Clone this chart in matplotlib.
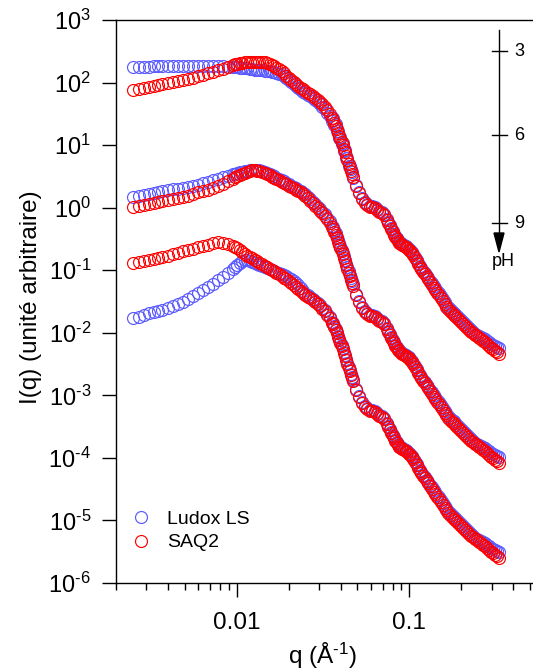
import numpy as np
import matplotlib
matplotlib.use("Agg")
import matplotlib.pyplot as plt
from matplotlib.lines import Line2D
from matplotlib.patches import Polygon
from matplotlib.ticker import LogLocator, NullFormatter, FuncFormatter

plt.rcParams['font.family'] = ['Liberation Sans', 'DejaVu Sans']
plt.rcParams['mathtext.fontset'] = 'custom'
plt.rcParams['mathtext.rm'] = 'Liberation Sans'
plt.rcParams['mathtext.it'] = 'Liberation Sans:italic'
plt.rcParams['mathtext.default'] = 'regular'
plt.rcParams['axes.unicode_minus'] = False

# ---------------- data ----------------
q = [0.0025, 0.0027, 0.0029, 0.0031, 0.0033, 0.0035, 0.0037, 0.0040, 0.0043, 0.0046,
     0.0049, 0.0052, 0.0056, 0.0060, 0.0064, 0.0068, 0.0073, 0.0078, 0.0083, 0.0089,
     0.0095, 0.0101, 0.0108, 0.0115, 0.0123, 0.0131, 0.0140, 0.0150, 0.0160, 0.0170,
     0.0182, 0.0194, 0.0207, 0.0220, 0.0235, 0.0250, 0.0267, 0.0285, 0.0304, 0.0324,
     0.0345, 0.0368, 0.0392, 0.0418, 0.0445, 0.0470, 0.0490, 0.0510, 0.0530, 0.0550,
     0.0570, 0.0590, 0.0610, 0.0630, 0.0650, 0.0670, 0.0690, 0.0710, 0.0740, 0.0770,
     0.0800, 0.0830, 0.0860, 0.0890, 0.0930, 0.0970, 0.101, 0.105, 0.110, 0.115,
     0.120, 0.126, 0.132, 0.138, 0.145, 0.152, 0.160, 0.168, 0.176, 0.185,
     0.195, 0.205, 0.216, 0.228, 0.240, 0.253, 0.267, 0.282, 0.298, 0.315, 0.330]

# log10 of I(q)
saq2_ph3 = [1.881, 1.897, 1.913, 1.929, 1.937, 1.953, 1.969, 1.985, 2.001, 2.017,
            2.033, 2.049, 2.073, 2.097, 2.121, 2.145, 2.169, 2.193, 2.217, 2.249,
            2.281, 2.297, 2.313, 2.329, 2.329, 2.329, 2.329, 2.313, 2.281, 2.233,
            2.185, 2.105, 2.041, 1.977, 1.913, 1.865, 1.817, 1.753, 1.689, 1.609,
            1.497, 1.354, 1.146, 0.938, 0.698, 0.490, 0.347, 0.235, 0.139, 0.075,
            0.043, 0.011, 0.003, -0.005, -0.037, -0.069, -0.085, -0.117, -0.197, -0.293,
            -0.389, -0.469, -0.533, -0.581, -0.613, -0.645, -0.693, -0.757, -0.852, -0.948,
            -1.028, -1.108, -1.188, -1.284, -1.364, -1.444, -1.540, -1.620, -1.684, -1.732,
            -1.796, -1.859, -1.923, -1.987, -2.035, -2.083, -2.131, -2.179, -2.243, -2.291, -2.339]

ludox_ph3 = [2.249, 2.249, 2.249, 2.249, 2.257, 2.257, 2.257, 2.265, 2.265, 2.265,
             2.265, 2.265, 2.265, 2.265, 2.265, 2.265, 2.265, 2.257, 2.257, 2.249,
             2.249, 2.241, 2.233, 2.225, 2.209, 2.201, 2.193, 2.185, 2.169, 2.153,
             2.129, 2.073, 2.009, 1.945, 1.881, 1.833, 1.785, 1.721, 1.657, 1.577,
             1.465, 1.321, 1.114, 0.906, 0.666, 0.474, 0.363, 0.251, 0.155, 0.091,
             0.059, 0.027, 0.019, 0.011, -0.021, -0.053, -0.069, -0.101, -0.181, -0.277,
             -0.373, -0.453, -0.517, -0.565, -0.597, -0.629, -0.677, -0.741, -0.836, -0.932,
             -1.012, -1.092, -1.172, -1.252, -1.332, -1.412, -1.508, -1.588, -1.652, -1.700,
             -1.764, -1.827, -1.891, -1.955, -2.019, -2.051, -2.083, -2.131, -2.179, -2.211, -2.243]

saq2_ph6 = [0.011, 0.027, 0.043, 0.059, 0.067, 0.083, 0.099, 0.115, 0.131, 0.147,
            0.171, 0.187, 0.219, 0.243, 0.267, 0.283, 0.315, 0.346, 0.378, 0.426,
            0.466, 0.506, 0.538, 0.578, 0.602, 0.594, 0.570, 0.538, 0.498, 0.458,
            0.418, 0.378, 0.330, 0.283, 0.243, 0.187, 0.107, 0.027, -0.053, -0.133,
            -0.245, -0.388, -0.596, -0.804, -1.044, -1.252, -1.395, -1.507, -1.603, -1.667,
            -1.699, -1.731, -1.739, -1.747, -1.779, -1.811, -1.827, -1.859, -1.939, -2.035,
            -2.131, -2.211, -2.275, -2.323, -2.355, -2.387, -2.435, -2.499, -2.594, -2.690,
            -2.770, -2.850, -2.930, -3.026, -3.106, -3.186, -3.282, -3.362, -3.426, -3.474,
            -3.538, -3.601, -3.665, -3.729, -3.777, -3.825, -3.873, -3.921, -3.985, -4.033, -4.081]

ludox_ph6 = [0.171, 0.179, 0.203, 0.219, 0.227, 0.243, 0.259, 0.275, 0.291, 0.306,
             0.322, 0.338, 0.354, 0.370, 0.394, 0.418, 0.442, 0.466, 0.490, 0.514,
             0.538, 0.554, 0.578, 0.594, 0.602, 0.602, 0.586, 0.562, 0.522, 0.482,
             0.442, 0.402, 0.354, 0.307, 0.267, 0.211, 0.131, 0.051, -0.029, -0.109,
             -0.221, -0.364, -0.572, -0.780, -1.020, -1.228, -1.379, -1.491, -1.587, -1.651,
             -1.683, -1.715, -1.723, -1.731, -1.763, -1.795, -1.811, -1.843, -1.923, -2.019,
             -2.115, -2.195, -2.259, -2.307, -2.339, -2.371, -2.419, -2.483, -2.578, -2.674,
             -2.754, -2.834, -2.914, -2.994, -3.074, -3.154, -3.250, -3.330, -3.394, -3.442,
             -3.506, -3.569, -3.633, -3.697, -3.761, -3.793, -3.825, -3.873, -3.921, -3.953, -3.985]

saq2_ph9 = [-0.884, -0.876, -0.860, -0.844, -0.828, -0.812, -0.796, -0.772, -0.748, -0.724,
            -0.700, -0.677, -0.653, -0.629, -0.613, -0.589, -0.565, -0.549, -0.557, -0.581,
            -0.605, -0.645, -0.709, -0.765, -0.812, -0.860, -0.908, -0.956, -0.996, -1.044,
            -1.092, -1.148, -1.204, -1.268, -1.332, -1.404, -1.444, -1.508, -1.572, -1.652,
            -1.764, -1.907, -2.115, -2.323, -2.563, -2.771, -2.914, -3.026, -3.122, -3.186,
            -3.218, -3.250, -3.258, -3.266, -3.298, -3.330, -3.346, -3.378, -3.458, -3.554,
            -3.650, -3.730, -3.794, -3.842, -3.874, -3.906, -3.954, -4.018, -4.113, -4.209,
            -4.289, -4.369, -4.449, -4.545, -4.625, -4.705, -4.801, -4.881, -4.945, -4.993,
            -5.057, -5.120, -5.184, -5.248, -5.296, -5.344, -5.392, -5.440, -5.504, -5.552, -5.600]

ludox_ph9 = [-1.764, -1.740, -1.708, -1.684, -1.668, -1.644, -1.628, -1.596, -1.572, -1.532,
             -1.500, -1.460, -1.412, -1.364, -1.316, -1.276, -1.220, -1.164, -1.108, -1.044,
             -0.980, -0.916, -0.852, -0.844, -0.876, -0.908, -0.932, -0.964, -1.004, -1.036,
             -1.068, -1.100, -1.148, -1.204, -1.284, -1.380, -1.428, -1.492, -1.556, -1.636,
             -1.748, -1.891, -2.099, -2.307, -2.547, -2.755, -2.898, -3.010, -3.106, -3.170,
             -3.202, -3.234, -3.242, -3.250, -3.282, -3.314, -3.330, -3.362, -3.442, -3.538,
             -3.634, -3.714, -3.778, -3.826, -3.858, -3.890, -3.938, -4.002, -4.097, -4.193,
             -4.273, -4.353, -4.433, -4.513, -4.593, -4.673, -4.769, -4.849, -4.913, -4.961,
             -5.025, -5.088, -5.152, -5.216, -5.280, -5.312, -5.344, -5.392, -5.440, -5.472, -5.504]

# additional readings where the measured points are packed densely
q_dense = [0.0098, 0.01045, 0.01115, 0.0119, 0.0127, 0.01355, 0.0145, 0.0155, 0.0165, 0.0176,
           0.0188, 0.02005, 0.02135, 0.02275, 0.02425, 0.02585, 0.0276, 0.02945, 0.0314, 0.03345,
           0.03565, 0.0380, 0.0405, 0.04315,
           0.0360, 0.0374, 0.0386, 0.0398, 0.0411, 0.0424, 0.0438, 0.0452, 0.0458, 0.0464,
           0.0755, 0.0785, 0.0815, 0.0845, 0.0875, 0.0910, 0.0950, 0.0990, 0.103, 0.1075,
           0.1125, 0.1175, 0.123, 0.129, 0.135, 0.1415, 0.1485, 0.156, 0.164, 0.172,
           0.1805, 0.190, 0.200, 0.2105, 0.222, 0.234, 0.2465, 0.260, 0.2745, 0.290,
           0.3065, 0.3225]

saq2_ph3_dense = [2.289, 2.305, 2.321, 2.331, 2.332, 2.331, 2.322, 2.298, 2.258, 2.209,
                  2.147, 2.073, 2.009, 1.945, 1.889, 1.841, 1.786, 1.722, 1.651, 1.556,
                  1.430, 1.253, 1.043, 0.820,
                  1.401, 1.306, 1.194, 1.098, 0.994, 0.882, 0.762, 0.642, 0.591, 0.541,
                  -0.245, -0.341, -0.429, -0.501, -0.557, -0.597, -0.629, -0.669, -0.725, -0.805,
                  -0.900, -0.988, -1.068, -1.148, -1.236, -1.324, -1.404, -1.492, -1.580, -1.652,
                  -1.708, -1.764, -1.828, -1.891, -1.955, -2.011, -2.059, -2.107, -2.155, -2.211,
                  -2.267, -2.315]

ludox_ph3_dense = [2.245, 2.237, 2.229, 2.217, 2.205, 2.197, 2.189, 2.177, 2.161, 2.141,
                   2.101, 2.041, 1.977, 1.913, 1.857, 1.809, 1.753, 1.689, 1.617, 1.521,
                   1.393, 1.218, 1.010, 0.786,
                   1.433, 1.338, 1.226, 1.130, 1.026, 0.914, 0.794, 0.674, 0.623, 0.573,
                   -0.229, -0.325, -0.413, -0.485, -0.541, -0.581, -0.613, -0.653, -0.709, -0.789,
                   -0.884, -0.972, -1.052, -1.132, -1.212, -1.292, -1.372, -1.460, -1.548, -1.620,
                   -1.676, -1.732, -1.796, -1.859, -1.923, -1.987, -2.035, -2.067, -2.107, -2.155,
                   -2.195, -2.227]

saq2_ph6_dense = [0.486, 0.522, 0.558, 0.592, 0.600, 0.583, 0.554, 0.518, 0.478, 0.438,
                  0.398, 0.354, 0.307, 0.263, 0.215, 0.147, 0.067, -0.013, -0.093, -0.189,
                  -0.317, -0.492, -0.700, -0.924,
                  -0.341, -0.436, -0.548, -0.644, -0.748, -0.860, -0.980, -1.100, -1.151, -1.201,
                  -1.987, -2.083, -2.171, -2.243, -2.299, -2.339, -2.371, -2.411, -2.467, -2.547,
                  -2.642, -2.730, -2.810, -2.890, -2.978, -3.066, -3.146, -3.234, -3.322, -3.394,
                  -3.450, -3.506, -3.570, -3.633, -3.697, -3.753, -3.801, -3.849, -3.897, -3.953,
                  -4.009, -4.057]

ludox_ph6_dense = [0.546, 0.566, 0.586, 0.600, 0.604, 0.595, 0.574, 0.542, 0.502, 0.462,
                   0.422, 0.378, 0.331, 0.287, 0.239, 0.171, 0.091, 0.011, -0.069, -0.165,
                   -0.293, -0.468, -0.676, -0.900,
                   -0.317, -0.412, -0.524, -0.620, -0.724, -0.836, -0.956, -1.076, -1.127, -1.177,
                   -1.971, -2.067, -2.155, -2.227, -2.283, -2.323, -2.355, -2.395, -2.451, -2.531,
                   -2.626, -2.714, -2.794, -2.874, -2.954, -3.034, -3.114, -3.202, -3.290, -3.362,
                   -3.418, -3.474, -3.538, -3.601, -3.665, -3.729, -3.777, -3.809, -3.849, -3.897,
                   -3.937, -3.969]

saq2_ph9_dense = [-0.625, -0.677, -0.737, -0.789, -0.836, -0.884, -0.932, -0.976, -1.020, -1.068,
                  -1.120, -1.176, -1.236, -1.300, -1.368, -1.424, -1.476, -1.540, -1.612, -1.708,
                  -1.836, -2.011, -2.219, -2.443,
                  -1.860, -1.955, -2.067, -2.163, -2.267, -2.379, -2.499, -2.619, -2.670, -2.720,
                  -3.506, -3.602, -3.690, -3.762, -3.818, -3.858, -3.890, -3.930, -3.986, -4.066,
                  -4.161, -4.249, -4.329, -4.409, -4.497, -4.585, -4.665, -4.753, -4.841, -4.913,
                  -4.969, -5.025, -5.089, -5.152, -5.216, -5.272, -5.320, -5.368, -5.416, -5.472,
                  -5.528, -5.576]

ludox_ph9_dense = [-0.948, -0.884, -0.840, -0.858, -0.892, -0.920, -0.948, -0.984, -1.020, -1.052,
                   -1.084, -1.124, -1.176, -1.244, -1.332, -1.404, -1.460, -1.524, -1.596, -1.692,
                   -1.820, -1.995, -2.203, -2.427,
                   -1.844, -1.939, -2.051, -2.147, -2.251, -2.363, -2.483, -2.603, -2.654, -2.704,
                   -3.490, -3.586, -3.674, -3.746, -3.802, -3.842, -3.874, -3.914, -3.970, -4.050,
                   -4.145, -4.233, -4.313, -4.393, -4.473, -4.553, -4.633, -4.721, -4.809, -4.881,
                   -4.937, -4.993, -5.057, -5.120, -5.184, -5.248, -5.296, -5.328, -5.368, -5.416,
                   -5.456, -5.488]

series_labels = ["Ludox LS", "SAQ2"]
ph_ticks = ["3", "6", "9"]
ph_label = "pH"

BLUE = "#5a5aff"
RED = "#ff0000"

# ---------------- figure ----------------
W, H = 533, 672
fig = plt.figure(figsize=(W / 100, H / 100), dpi=100)
ax = fig.add_axes([116 / W, 1 - 583 / H, (W - 116) / W, (583 - 20) / H])

mk = dict(ls="none", marker="o", mfc="none", ms=8.6, mew=0.85)
blue_sets = [(ludox_ph3, ludox_ph3_dense), (ludox_ph6, ludox_ph6_dense), (ludox_ph9, ludox_ph9_dense)]
red_sets = [(saq2_ph3, saq2_ph3_dense), (saq2_ph6, saq2_ph6_dense), (saq2_ph9, saq2_ph9_dense)]
qq = np.array(q + q_dense)
for color, sets in ((BLUE, blue_sets), (RED, red_sets)):
    for main, dense in sets:
        ax.plot(qq, 10 ** np.array(main + dense), color=color, **mk)

ax.set_xscale("log")
ax.set_yscale("log")
ax.set_xlim(0.002, 0.52)
ax.set_ylim(1e-6, 1e3)

ax.spines["right"].set_visible(False)
for sp in ("left", "top", "bottom"):
    ax.spines[sp].set_linewidth(1.0)

HY = "\u2010"
def yfmt(v, pos):
    e = int(round(np.log10(v)))
    s = str(e).replace("-", HY)
    return r"$\mathdefault{10^{%s}}$" % s

def xfmt(v, pos):
    return "%g" % v

ax.yaxis.set_major_locator(LogLocator(base=10, numticks=20))
ax.yaxis.set_minor_locator(LogLocator(base=10, subs=[], numticks=20))
ax.yaxis.set_major_formatter(FuncFormatter(yfmt))
ax.xaxis.set_major_locator(LogLocator(base=10, numticks=20))
ax.xaxis.set_minor_locator(LogLocator(base=10, subs=np.arange(2, 10), numticks=20))
ax.xaxis.set_major_formatter(FuncFormatter(xfmt))
ax.xaxis.set_minor_formatter(NullFormatter())

ax.tick_params(axis="both", which="major", direction="out", length=10, width=1.0,
               labelsize=17, pad=8)
ax.tick_params(axis="x", which="major", labelsize=17.5, pad=11)
ax.tick_params(axis="x", which="minor", direction="out", length=5, width=1.0)
ax.tick_params(top=False, right=False)

ax.set_ylabel("I(q) (unité arbitraire)", fontsize=17.5)
ax.yaxis.set_label_coords(-0.177, 0.508)
ax.set_xlabel("q (Å$^{%s1}$)" % HY, fontsize=17.5)
ax.xaxis.set_label_coords(0.494, -0.102)

handles = [Line2D([], [], color=BLUE, **mk), Line2D([], [], color=RED, **mk)]
ax.legend(handles, series_labels, loc="upper left", bbox_to_anchor=(0.036, 0.129),
          frameon=False, fontsize=14, handlelength=1.0, handletextpad=0.85,
          borderpad=0, borderaxespad=0, labelspacing=0.3)

# ---------------- pH scale (annotation) ----------------
def fx(px):
    return px / W

def fy(py):
    return 1 - py / H

fig.add_artist(Line2D([fx(499), fx(499)], [fy(30), fy(236)], color="black", lw=1.0,
                      transform=fig.transFigure))
fig.add_artist(Polygon([[fx(494), fy(233)], [fx(504), fy(233)], [fx(499), fy(252)]],
                       closed=True, color="black", transform=fig.transFigure))
for lab, py in zip(ph_ticks, (51, 135, 223)):
    fig.add_artist(Line2D([fx(492), fx(507)], [fy(py), fy(py)], color="black", lw=1.0,
                          transform=fig.transFigure))
    fig.text(fx(514), fy(py), lab, fontsize=13, ha="left", va="center")
fig.text(fx(503), fy(253), ph_label, fontsize=13, ha="center", va="top")

fig.savefig("out.png", dpi=100)
